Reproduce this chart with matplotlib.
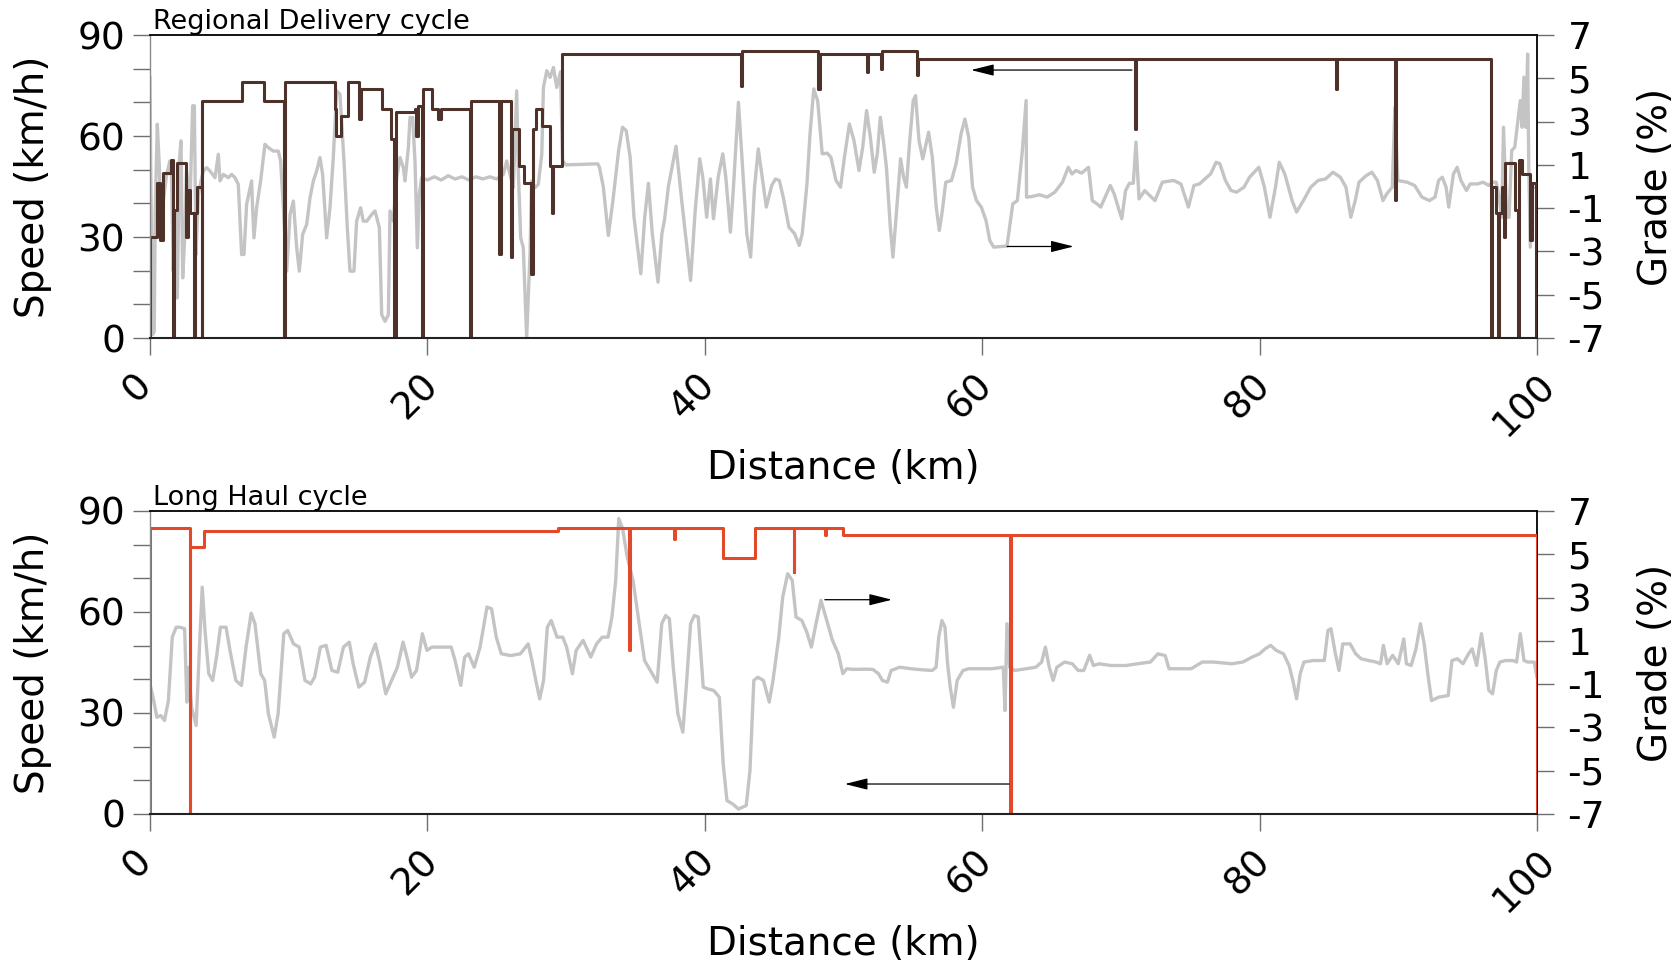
"""
Drive cycles: speed limit (step) and road grade along distance
(a) Regional Delivery cycle, (b) Long Haul cycle
"""

import matplotlib
matplotlib.use('Agg')
import matplotlib.pyplot as plt
import matplotlib.transforms as mtransforms
import numpy as np

# ── Data ──────────────────────────────────────────────────────────────────────
# Regional Delivery: speed (km/h), step-post
rd_speed_km = [0.0, 0.0, 0.50, 0.72, 0.97, 1.52, 1.68, 1.72, 1.93, 2.62, 2.76, 2.92,
               3.17, 3.22, 3.39, 3.73, 3.77, 6.62, 8.22, 9.66, 9.72, 13.33, 13.45,
               13.74, 14.29, 15.07, 15.2, 16.7, 17.4, 17.62, 17.72, 19.1, 19.2, 19.3,
               19.6, 19.68, 20.3, 20.8, 20.95, 23.07, 23.15, 25.2, 25.3, 26.0, 26.1,
               26.6, 27.0, 27.5, 27.6, 27.8, 28.3, 28.84, 28.96, 29.03, 29.72,
               42.6, 42.7, 48.2, 48.3, 51.7, 51.8, 52.7, 52.8, 55.3, 55.4, 71.0, 71.1,
               85.5, 85.6, 89.75, 89.85, 96.71, 96.79, 97.06, 97.19, 97.27, 97.46,
               97.65, 97.73, 98.45, 98.66, 98.74, 98.93, 99.47, 99.68, 99.92, 100.0]
rd_speed_kmh = [0, 30, 46, 29, 49, 53, 0, 38, 52, 30, 44, 37,
                0, 37, 45, 0, 70.5, 76, 70.5, 0, 76, 68, 60,
                66, 76, 65, 74, 68, 59, 0, 67, 68, 60, 69,
                0, 74, 68, 65, 68, 0, 70.5, 25, 70.5, 24, 62,
                51, 46, 19, 62, 68, 63, 51, 37, 51, 84.4,
                75, 85.4, 74, 84.4, 79, 84.4, 80, 85.4, 78, 83, 62, 83,
                74, 83, 41, 83, 0, 45, 37, 0, 37, 45,
                30, 52, 38, 0, 53, 48.7, 29, 46, 0, 0]

# Regional Delivery: grade (%)
rd_grade_km = [0.00, 0.07, 0.19, 0.31, 0.38, 0.53, 0.67, 0.77, 0.91, 1.20, 1.44, 1.56,
               1.68, 1.80, 1.97, 2.12, 2.24, 2.36, 2.52, 2.64, 2.88, 3.08, 3.20, 3.32,
               3.49, 3.68, 3.85, 4.09, 4.33, 4.69, 4.93, 5.05, 5.29, 5.65, 5.89, 6.13,
               6.37, 6.61, 6.78, 6.97, 7.33, 7.40, 7.50, 7.69, 7.98, 8.29, 8.53, 8.89,
               9.25, 9.42, 9.62, 9.86, 10.10, 10.34, 10.58, 10.77, 11.01, 11.30, 11.54,
               11.78, 12.02, 12.26, 12.45, 12.74, 12.98, 13.22, 13.46, 13.70, 13.99,
               14.23, 14.42, 14.71, 14.90, 15.19, 15.38, 15.63, 15.99, 16.23, 16.54,
               16.71, 16.95, 17.19, 17.31, 17.55, 17.79, 18.03, 18.27, 18.39, 18.63,
               18.75, 18.94, 19.11, 19.28, 19.42, 19.59, 20.0, 20.5, 21.0, 21.5, 22.0,
               22.5, 23.0, 23.5, 24.0, 24.5, 25.0, 25.48, 25.72, 26.20, 26.44, 26.56,
               26.73, 26.92, 27.16, 27.40, 27.52, 27.76, 28.00, 28.25, 28.37, 28.61,
               28.85, 29.09, 29.33, 29.6, 29.75, 30.0, 32.28, 32.41, 32.69, 33.05,
               33.38, 33.79, 34.07, 34.34, 34.62, 34.90, 35.39, 35.67, 35.94, 36.22,
               36.63, 36.91, 37.10, 37.38, 37.93, 38.34, 38.98, 39.31, 39.64, 39.86,
               40.14, 40.41, 40.63, 40.97, 41.30, 41.52, 41.85, 42.07, 42.43, 42.68,
               43.03, 43.31, 43.59, 43.86, 44.14, 44.44, 44.83, 45.10, 45.38, 45.66,
               46.07, 46.48, 46.81, 47.03, 47.37, 47.59, 47.86, 48.14, 48.47, 48.83,
               49.10, 49.46, 49.79, 50.07, 50.43, 50.76, 51.12, 51.39, 51.67, 51.94,
               52.22, 52.44, 52.66, 52.88, 53.10, 53.38, 53.57, 53.79, 54.12, 54.34,
               54.54, 54.76, 55.03, 55.20, 55.45, 55.72, 56.14, 56.41, 56.69, 56.91,
               57.10, 57.38, 57.79, 58.12, 58.48, 58.76, 59.03, 59.31, 59.59, 59.94,
               60.28, 60.55, 60.83, 61.79, 62.21, 62.54, 62.90, 63.17, 63.20, 63.59,
               64.14, 64.69, 65.24, 65.79, 66.21, 66.48, 66.76, 67.17, 67.67, 67.94,
               68.28, 68.55, 68.97, 69.24, 69.52, 69.88, 70.07, 70.34, 70.62, 70.90,
               71.09, 71.31, 71.72, 72.46, 72.99, 73.80, 74.33, 74.87, 75.27, 75.67,
               76.20, 76.47, 76.87, 77.14, 77.54, 77.94, 78.34, 78.88, 79.28, 79.95,
               80.35, 80.75, 81.15, 81.42, 81.82, 82.35, 82.67, 83.16, 83.69, 84.22,
               84.76, 85.29, 85.83, 86.23, 86.58, 86.90, 87.17, 87.70, 88.10, 88.50,
               88.90, 89.17, 89.57, 89.76, 89.97, 90.64, 91.18, 91.71, 92.25, 92.65,
               92.91, 93.18, 93.45, 93.64, 93.98, 94.25, 94.52, 94.92, 95.19, 95.72,
               96.12, 96.52, 96.79, 97.06, 97.19, 97.46, 97.59, 97.81, 97.99, 98.18,
               98.40, 98.80, 98.93, 99.06, 99.20, 99.33, 99.41, 99.52, 99.68, 99.95]
rd_grade_pct = [5.04, -0.05, -6.84, -6.69, -1.13, 2.88, 1.03, -1.13, -0.98, 0.56, 1.18, 0.41,
                -3.91, -1.13, -5.15, 1.18, 2.11, -4.22, -2.21, 0.72, -0.98, 3.73, 3.73, -3.14,
                -0.36, 0.26, 0.72, 0.87, 0.72, 0.41, 1.49, 0.26, 0.56, 0.41, 0.56, 0.41,
                0.10, -3.14, -3.14, -0.82, 0.26, -0.98, -2.37, -0.98, 0.26, 1.95, 1.80, 1.64,
                1.64, 1.18, -0.98, -3.91, -1.29, -0.67, -2.83, -3.91, -2.21, -1.75, -0.52,
                0.26, 0.72, 1.34, 0.56, -2.37, -0.98, 1.34, 4.42, 4.27, 1.18,
                -1.90, -3.91, -3.91, -1.60, -0.98, -1.60, -1.60, -1.29, -1.13, -1.90,
                -5.92, -6.23, -5.92, -1.13, -1.60, 0.41, 1.34, 0.87, 0.26, 1.80,
                3.19, 3.19, 1.18, -2.83, -0.36, 0.41, 0.30, 0.45, 0.30, 0.50, 0.35,
                0.45, 0.30, 0.45, 0.35, 0.45, 0.35, 0.56, 1.18, -0.05, 4.42, 0.72,
                -2.37, -2.83, -7.0, -3.14, 0.26, -0.05, 0.10, 1.49, 4.58, 5.35,
                5.04, 5.50, 4.58, 5.30, 1.20, 1.00, 1.05, 0.89, -0.03, -2.26,
                -0.65, 1.66, 2.74, 2.58, 1.35, -1.42, -4.03, -1.42, 0.15, -2.18,
                -4.42, -2.18, -1.54, 0.00, 1.86, -0.65, -4.34, -1.11, 1.28, 0.43,
                -1.42, 0.35, -1.49, 0.43, 1.51, 0.43, -2.11, -0.03, 3.89, 1.35,
                -2.18, -3.26, -0.03, 1.74, 0.43, -0.95, 0.05, 0.35, 0.28, -0.49,
                -1.88, -2.18, -2.72, -2.18, 0.12, 2.43, 4.51, 3.97, 1.51, 1.54,
                1.35, 0.28, -0.03, 1.35, 2.89, 2.12, 0.74, 1.82, 3.51, 2.28,
                0.66, 1.51, 3.20, 2.12, 0.89, -1.88, -3.26, -1.42, 1.28, 0.43,
                -0.03, 1.97, 3.97, 4.20, 2.12, 1.28, 2.51, 1.35, -0.95, -2.03,
                -1.26, 0.20, 0.28, 1.05, 2.43, 3.12, 2.28, -0.03, -0.65, -0.95,
                -1.57, -2.49, -2.80, -2.75, -0.80, -0.65, 1.66, 3.97, -0.49, -0.46,
                -0.38, -0.49, -0.26, 0.20, 0.89, 0.58, 0.74, 0.62, 0.89, -0.65,
                -0.80, -0.95, -0.34, 0.05, -0.34, -1.11, -1.49, -0.19, 0.15, 0.15,
                2.05, -0.57, -0.19, -0.65, 0.20, 0.28, 0.12, -0.95, 0.05, 0.12,
                0.43, 0.58, 1.12, 1.05, 0.28, -0.18, -0.26, -0.03, 0.43, 0.89,
                -0.03, -1.42, -0.03, 1.12, 0.58, -0.65, -1.18, -0.65, -0.03, 0.28,
                0.35, 0.66, 0.43, -0.03, -1.42, -0.65, 0.20, 0.51, 0.66, 0.28,
                -0.65, -0.34, -0.03, 3.66, 0.28, 0.20, 0.05, -0.49, -0.65, -0.49,
                0.28, 0.43, -0.03, -0.95, 0.58, 0.89, 0.28, -0.18, 0.12, 0.12,
                0.20, 0.05, 0.20, 0.20, -0.18, -1.42, 2.74, -1.42, -1.42, 1.66,
                1.82, 3.97, 2.74, 5.05, 2.74, 6.12, 0.89, -2.80, -0.03, -0.03]

# Long Haul: speed (km/h), step-post
lh_speed_km = [0.0, 0.0, 2.86, 2.91, 3.88, 29.4, 34.55, 34.62, 37.8, 37.87, 41.3, 43.6,
               46.4, 46.47, 48.66, 48.72, 50.0, 62.0, 62.08, 100.0]
lh_speed_kmh = [0, 85, 0, 79.3, 84, 85, 48.8, 85, 81.7, 85, 76, 85,
                72, 85, 82.8, 85, 83, 0, 83, 0]

# Long Haul: grade (%)
lh_grade_km = [0.00, 0.22, 0.50, 0.78, 1.05, 1.33, 1.61, 1.89, 2.16, 2.50, 2.66, 2.80,
               3.00, 3.33, 3.55, 3.77, 3.97, 4.24, 4.52, 4.80, 5.08, 5.49, 5.77, 6.19,
               6.60, 6.93, 7.30, 7.57, 7.99, 8.27, 8.54, 8.96, 9.24, 9.65, 9.93, 10.35,
               10.76, 11.18, 11.59, 11.87, 12.29, 12.70, 13.12, 13.54, 13.95, 14.37,
               14.65, 15.06, 15.48, 15.89, 16.26, 16.59, 17.00, 17.42, 17.84, 18.25,
               18.53, 18.86, 19.22, 19.64, 19.97, 20.33, 21.03, 21.72, 22.00, 22.41,
               22.69, 22.97, 23.38, 23.80, 24.30, 24.63, 24.97, 25.33, 26.02, 26.71,
               27.27, 27.54, 27.82, 28.10, 28.38, 28.65, 28.93, 29.35, 29.76, 30.04,
               30.46, 30.73, 31.23, 31.78, 32.20, 32.61, 33.03, 33.31, 33.58, 33.80,
               34.08, 34.41, 34.83, 35.24, 35.66, 36.21, 36.57, 36.90, 37.18, 37.45,
               37.73, 38.06, 38.42, 38.70, 38.98, 39.25, 39.53, 39.89, 40.22, 40.64,
               41.05, 41.33, 41.60, 42.02, 42.43, 42.99, 43.26, 43.54, 43.82, 44.23,
               44.65, 44.92, 45.34, 45.62, 45.98, 46.31, 46.58, 47.00, 47.36, 47.69,
               48.02, 48.38, 48.80, 49.21, 49.63, 49.96, 50.24, 50.73, 51.56, 52.12,
               52.53, 52.81, 53.17, 53.44, 54.05, 54.88, 55.71, 56.40, 56.68, 56.87,
               57.10, 57.32, 57.51, 57.70, 57.93, 58.20, 58.62, 59.03, 59.86, 60.69,
               61.52, 61.65, 61.79, 61.99, 62.35, 63.18, 63.87, 64.29, 64.56, 64.84,
               65.12, 65.39, 65.95, 66.50, 66.92, 67.33, 67.75, 68.02, 68.44, 69.27,
               70.37, 71.20, 72.13, 72.67, 73.20, 73.47, 74.00, 75.07, 75.87, 76.67,
               78.00, 78.80, 79.47, 80.00, 80.40, 80.80, 81.20, 81.73, 82.13, 82.40,
               82.67, 82.93, 83.20, 83.87, 84.67, 84.93, 85.15, 85.47, 85.73, 86.00,
               86.53, 86.93, 87.33, 87.87, 88.40, 88.72, 88.93, 89.20, 89.60, 90.00,
               90.40, 90.59, 90.93, 91.28, 91.60, 91.87, 92.13, 92.40, 92.93, 93.60,
               93.87, 94.27, 94.67, 95.07, 95.33, 95.65, 96.00, 96.27, 96.53, 96.80,
               97.07, 97.33, 97.73, 98.27, 98.53, 98.80, 99.07, 99.33, 99.81, 100.0]
lh_grade_pct = [-0.99, -1.60, -2.53, -2.45, -2.68, -1.76, 1.17, 1.63, 1.63, 1.56, -1.83, -0.22,
                -2.07, -2.91, 0.40, 3.48, 1.48, -0.52, -0.83, 0.25, 1.63, 1.63, 0.56, -0.83,
                -1.06, 0.71, 2.28, 1.79, -0.52, -0.83, -2.37, -3.45, -2.37, 1.33, 1.48, 0.86,
                0.71, -0.83, -0.99, -0.68, 0.71, 0.79, -0.37, -0.45, 0.71, 0.94,
                -0.06, -1.14, -0.91, 0.25, 0.86, -0.06, -1.45, -0.83, -0.22, 0.94,
                0.25, -0.68, -0.37, 1.33, 0.56, 0.71, 0.71, 0.71, 0.09, -1.06,
                0.25, 0.40, -0.22, 0.71, 2.56, 2.48, 1.17, 0.40, 0.32, 0.40,
                0.86, 0.09, -0.83, -1.68, -0.83, 1.63, 1.94, 1.17, 1.17, 0.71,
                -0.52, 0.56, 1.02, 0.25, 0.86, 1.17, 1.17, 2.10, 3.79, 6.65,
                6.18, 4.87, 3.79, 1.94, 0.09, -0.52, -0.91, 1.79, 2.17, 2.02,
                -0.22, -2.37, -3.22, -0.83, 1.79, 2.17, 2.10, -1.14, -1.22, -1.29,
                -1.60, -4.69, -6.38, -6.54, -6.77, -6.61, -5.00, -0.83, -0.68, -0.83,
                -1.83, -0.83, 1.17, 3.02, 4.10, 3.79, 2.10, 1.94, 1.40, 0.71,
                1.79, 2.87, 1.94, 1.02, 0.40, -0.52, -0.29, -0.32, -0.31, -0.32,
                -0.52, -0.83, -0.91, -0.37, -0.22, -0.29, -0.34, -0.37, -0.22, 1.17,
                1.94, 1.63, -0.06, -1.14, -2.07, -0.83, -0.37, -0.29, -0.29, -0.29,
                -0.22, -2.22, 1.79, -0.22, -0.37, -0.29, -0.22, 0.02, 0.71, -0.22,
                -0.83, -0.22, 0.02, -0.06, -0.37, -0.37, 0.33, -0.14, -0.06, -0.14,
                -0.14, -0.06, 0.02, 0.40, 0.32, -0.29, -0.29, -0.29, 0.02, 0.02,
                -0.06, 0.02, 0.25, 0.40, 0.63, 0.79, 0.56, 0.40, -0.14, -0.83,
                -1.68, -0.52, 0.02, 0.09, 0.09, 1.48, 1.56, 0.40, -0.37, 0.86,
                0.86, 0.40, 0.17, 0.09, 0.02, -0.06, 0.79, -0.06, 0.33, -0.06,
                1.09, -0.06, -0.14, 0.63, 1.79, 0.86, -0.52, -1.76, -1.60, -1.53,
                0.09, 0.17, -0.06, 0.40, 0.63, -0.14, 1.33, 0.17, -1.29, -1.45,
                -0.37, 0.02, 0.09, 0.09, 0.02, 1.33, 0.09, 0.02, 0.02, -0.68]

# annotation arrows: (tail_km, tip_km, level, axis)
rd_arrows = [(70.8, 59.2, 79.6, 'speed'), (61.8, 66.6, -2.77, 'grade')]
lh_arrows = [(48.66, 53.5, 2.9, 'grade'), (61.94, 50.1, 8.9, 'speed')]

SPEED_TICKS = [0, 30, 60, 90]
GRADE_TICKS = [-7, -5, -3, -1, 1, 3, 5, 7]
DIST_TICKS = [0, 20, 40, 60, 80, 100]

BROWN = '#4e3128'
RED = '#e2492a'
GREY = '#c4c4c4'
TICK_GREY = '#6e6e6e'

plt.rcParams['font.family'] = ['DejaVu Sans']
plt.rcParams['axes.unicode_minus'] = False

# ── Plot ───────────────────────────────────────────────────────────────────────
fig = plt.figure(figsize=(16.81, 9.65), dpi=100)

panels = [
    ([0.0892, 0.6497, 0.8251, 0.3140], 'Regional Delivery cycle',
     rd_speed_km, rd_speed_kmh, BROWN, rd_grade_km, rd_grade_pct, rd_arrows),
    ([0.0892, 0.1565, 0.8251, 0.3140], 'Long Haul cycle',
     lh_speed_km, lh_speed_kmh, RED, lh_grade_km, lh_grade_pct, lh_arrows),
]

for rect, title, skm, sval, scol, gkm, gval, arrows in panels:
    ax = fig.add_axes(rect)
    ax2 = ax.twinx()

    ax2.plot(gkm, gval, color=GREY, lw=2.4, solid_joinstyle='round')
    ax.step(skm, sval, where='post', color=scol, lw=2.2)
    ax.set_zorder(ax2.get_zorder() + 1)
    ax.patch.set_visible(False)

    ax.set_xlim(0, 100)
    ax.set_ylim(0, 90)
    ax2.set_ylim(-7, 7)

    # spines
    for s in ['top', 'right', 'bottom', 'left']:
        ax2.spines[s].set_visible(False)
    ax2.spines['right'].set_visible(True)
    ax2.spines['right'].set_color('black')
    ax2.spines['right'].set_linewidth(1.3)
    ax.spines['right'].set_visible(False)
    ax.spines['top'].set_color('black')
    ax.spines['top'].set_linewidth(1.3)
    ax.spines['bottom'].set_color('#222222')
    ax.spines['bottom'].set_linewidth(1.5)
    ax.spines['left'].set_color('#8a8a8a')
    ax.spines['left'].set_linewidth(1.0)

    # ticks
    ax.set_yticks(SPEED_TICKS)
    ax.set_yticks(np.arange(0, 91, 10), minor=True)
    ax.set_xticks(DIST_TICKS)
    ax.set_xticklabels([str(d) for d in DIST_TICKS], rotation=45)
    ax.tick_params(axis='both', which='both', direction='out', length=12,
                   width=1.0, color=TICK_GREY, labelsize=27)
    ax.tick_params(axis='y', pad=6)
    ax.tick_params(axis='x', pad=9)
    ax2.set_yticks(GRADE_TICKS)
    ax2.set_yticklabels([str(g) for g in GRADE_TICKS])
    ax2.tick_params(axis='y', direction='out', length=12, width=1.0,
                    color=TICK_GREY, labelsize=27, pad=10)

    offset = mtransforms.ScaledTranslation(-0.12, 0, fig.dpi_scale_trans)
    for lab in ax.get_xticklabels():
        lab.set_transform(lab.get_transform() + offset)

    # labels
    ax.set_ylabel('Speed (km/h)', fontsize=28, va='center')
    ax.yaxis.set_label_coords(-0.0840, 0.5)
    ax2.set_ylabel('Grade (%)', fontsize=28, va='center', rotation=90)
    ax2.yaxis.set_label_coords(1.0858, 0.5)
    ax.set_xlabel('Distance (km)', fontsize=28, va='center')
    ax.xaxis.set_label_coords(0.5, -0.43)

    ax.text(0.002, 1.02, title, transform=ax.transAxes, fontsize=19.5,
            va='baseline', ha='left')

    # arrows
    for tail, tip, level, which in arrows:
        target = ax if which == 'speed' else ax2
        target.annotate('', xy=(tip, level), xytext=(tail, level),
                        arrowprops=dict(arrowstyle='-|>,head_length=1.0,head_width=0.25',
                                        color='black', lw=0.9, mutation_scale=14,
                                        shrinkA=0, shrinkB=0))

plt.savefig('out.png', dpi=100)
